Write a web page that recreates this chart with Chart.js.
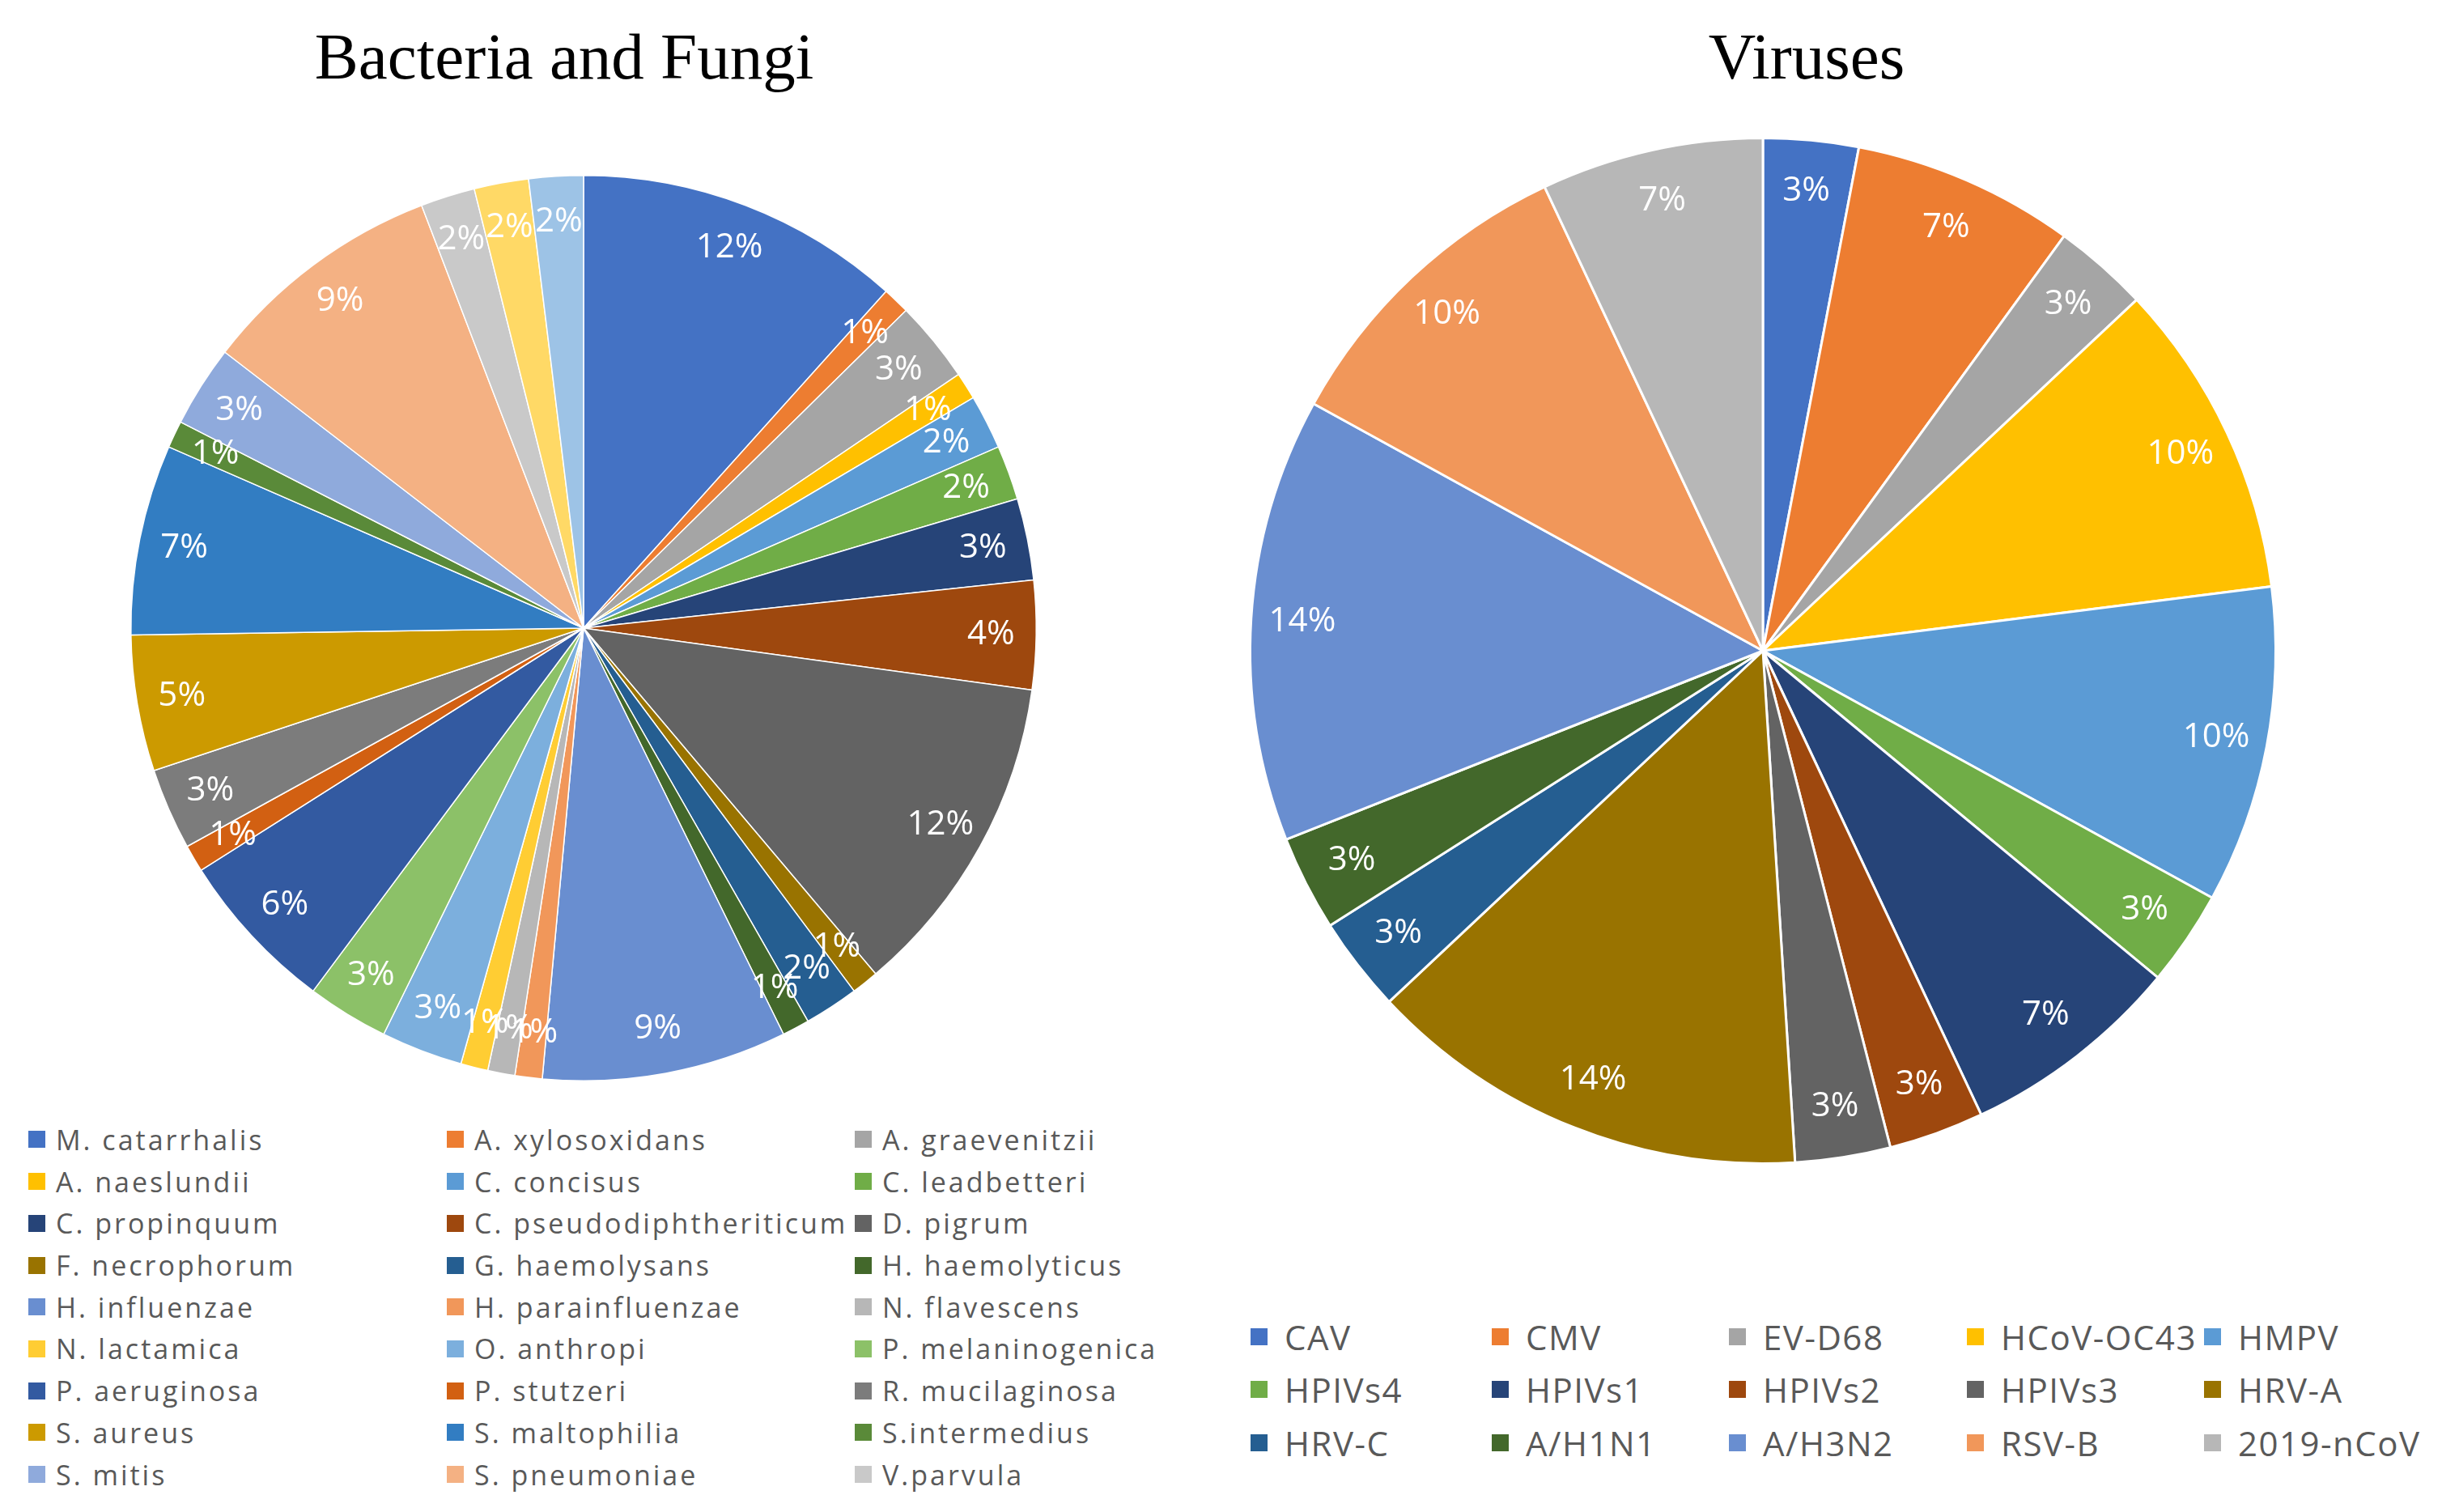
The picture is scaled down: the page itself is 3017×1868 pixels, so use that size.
<!DOCTYPE html>
<html>
<head>
<meta charset="utf-8">
<title>Bacteria and Fungi / Viruses</title>
<script src="https://cdn.jsdelivr.net/npm/chart.js@4.4.1/dist/chart.umd.min.js"></script>
<style>
  html, body { margin: 0; padding: 0; background: #fff; }
  body { width: 3017px; height: 1868px; position: relative; overflow: hidden; }
  .title { position: absolute; top: 30px; font-family: "Liberation Serif", serif; font-size: 81px; line-height: 81px; color: #000; transform: translateX(-50%); white-space: nowrap; }
  .pie { position: absolute; }
  .legend-item { position: absolute; display: flex; align-items: center; white-space: nowrap; color: #595959; font-family: "Open Sans", sans-serif; }
  .legend-item span.box { display: inline-block; flex: none; }
</style>
</head>
<body>
<div class="title" style="left:697px">Bacteria and Fungi</div>
<div class="title" style="left:2232px">Viruses</div>
<canvas id="bacteria" class="pie" style="left:141px;top:196px" width="1160" height="1160"></canvas>
<canvas id="viruses" class="pie" style="left:1533px;top:159px" width="1290" height="1290"></canvas>
<div id="bacteria-legend"></div>
<div id="virus-legend"></div>
<script>
// left pie, clockwise from 12 o'clock
const bacteriaNames = [
  "M. catarrhalis", "A. xylosoxidans", "A. graevenitzii",
  "A. naeslundii", "C. concisus", "C. leadbetteri",
  "C. propinquum", "C. pseudodiphtheriticum", "D. pigrum",
  "F. necrophorum", "G. haemolysans", "H. haemolyticus",
  "H. influenzae", "H. parainfluenzae", "N. flavescens",
  "N. lactamica", "O. anthropi", "P. melaninogenica",
  "P. aeruginosa", "P. stutzeri", "R. mucilaginosa",
  "S. aureus", "S. maltophilia", "S.intermedius",
  "S. mitis", "S. pneumoniae", "V.parvula"
];
// the last two slices have no legend entry in the original
const bacteriaValues = [12, 1, 3, 1, 2, 2, 3, 4, 12, 1, 2, 1, 9, 1, 1, 1, 3, 3, 6, 1, 3, 5, 7, 1, 3, 9, 2, 2, 2];
const bacteriaColors = [
  "#4472C4", "#ED7D31", "#A5A5A5", "#FFC000", "#5B9BD5", "#70AD47",
  "#264478", "#9E480E", "#636363", "#997300", "#255E91", "#43682B",
  "#698ED0", "#F1975A", "#B7B7B7", "#FFCD33", "#7CAFDD", "#8CC168",
  "#335AA1", "#D26012", "#7C7C7C", "#CC9A00", "#327DC2", "#5A8A39",
  "#8FAADC", "#F4B183", "#C9C9C9", "#FFD966", "#9DC3E6"
];

// right pie
const virusNames = [
  "CAV", "CMV", "EV-D68", "HCoV-OC43", "HMPV",
  "HPIVs4", "HPIVs1", "HPIVs2", "HPIVs3", "HRV-A",
  "HRV-C", "A/H1N1", "A/H3N2", "RSV-B", "2019-nCoV"
];
const virusValues = [3, 7, 3, 10, 10, 3, 7, 3, 3, 14, 3, 3, 14, 10, 7];
const virusColors = [
  "#4472C4", "#ED7D31", "#A5A5A5", "#FFC000", "#5B9BD5",
  "#70AD47", "#264478", "#9E480E", "#636363", "#997300",
  "#255E91", "#43682B", "#698ED0", "#F1975A", "#B7B7B7"
];

// percent labels near the outer edge of each slice
const sliceLabels = {
  id: "sliceLabels",
  afterDatasetsDraw(chart, args, opts) {
    const ctx = chart.ctx;
    const meta = chart.getDatasetMeta(0);
    const values = chart.data.datasets[0].data;
    ctx.save();
    ctx.font = opts.font;
    ctx.fillStyle = opts.color;
    ctx.textAlign = "center";
    ctx.textBaseline = "middle";
    meta.data.forEach((arc, i) => {
      const p = arc.getProps(["x", "y", "startAngle", "endAngle", "outerRadius"], true);
      const mid = (p.startAngle + p.endAngle) / 2;
      const r = p.outerRadius * opts.offset;
      ctx.fillText(values[i] + "%", p.x + Math.cos(mid) * r, p.y + Math.sin(mid) * r);
    });
    ctx.restore();
  }
};

function makePie(id, labels, values, colors, pad, border) {
  return new Chart(document.getElementById(id), {
    type: "pie",
    data: {
      labels: labels,
      datasets: [{
        data: values,
        backgroundColor: colors,
        borderColor: "#fff",
        borderWidth: border
      }]
    },
    options: {
      responsive: false,
      animation: false,
      layout: { padding: pad },
      plugins: {
        legend: { display: false },
        tooltip: { enabled: false },
        sliceLabels: { font: '42px "Open Sans"', color: "#fff", offset: 0.9 }
      }
    },
    plugins: [sliceLabels]
  });
}

makePie("bacteria", bacteriaNames.concat(["", ""]), bacteriaValues, bacteriaColors, 20, 1.5);
makePie("viruses", virusNames, virusValues, virusColors, 10, 3);

function buildLegend(el, names, colors, cfg) {
  const box = document.getElementById(el);
  for (let i = 0; i < names.length; i++) {
    const col = i % cfg.cols;
    const row = Math.floor(i / cfg.cols);
    const cy = cfg.y0 + row * cfg.dy;
    box.innerHTML += `
      <div class="legend-item" style="left:${cfg.xs[col]}px;top:${cy - cfg.dy / 2}px;height:${cfg.dy}px;font-size:${cfg.size}px;letter-spacing:${cfg.spacing}px">
        <span class="box" style="width:${cfg.box}px;height:${cfg.box}px;background:${colors[i]};margin-right:${cfg.gap}px"></span>${names[i]}
      </div>`;
  }
}

buildLegend("bacteria-legend", bacteriaNames, bacteriaColors, {
  cols: 3, xs: [35, 552, 1056], y0: 1408, dy: 51.7, size: 34, spacing: 3, box: 21, gap: 13
});
buildLegend("virus-legend", virusNames, virusColors, {
  cols: 5, xs: [1545, 1843, 2136, 2430, 2723], y0: 1651, dy: 65.5, size: 42, spacing: 1.5, box: 21, gap: 21
});
</script>
</body>
</html>
